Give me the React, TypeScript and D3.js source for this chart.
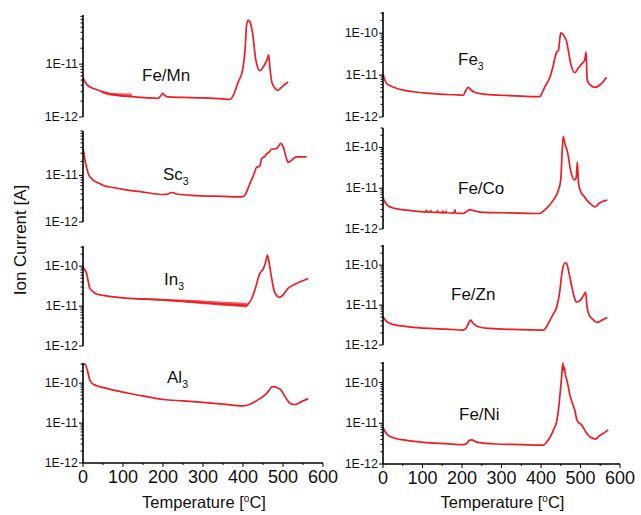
import React from "react";
import * as d3 from "d3";

// ---------- data (temperature in °C, ion current in A) ----------
const X_TICKS = [0, 100, 200, 300, 400, 500, 600];
const X_MINOR = [50, 150, 250, 350, 450, 550];

const FEMN_T = [0, 4, 10, 20, 34, 50, 70, 90, 113, 130, 160, 188, 194, 199, 204, 212, 250, 300, 350, 367, 376, 388, 399, 405, 409, 413, 417, 424, 432, 442, 451, 461, 464, 467, 472, 480, 486, 494, 502, 513];
const FEMN_I = [5.5e-12, 4.8e-12, 4.1e-12, 3.6e-12, 3.3e-12, 3.0e-12, 2.7e-12, 2.55e-12, 2.45e-12, 2.4e-12, 2.3e-12, 2.25e-12, 2.5e-12, 2.8e-12, 2.6e-12, 2.4e-12, 2.35e-12, 2.3e-12, 2.2e-12, 2.15e-12, 2.6e-12, 4.6e-12, 7.7e-12, 1.8e-11, 5.5e-11, 6.7e-11, 6.4e-11, 3.8e-11, 1.2e-11, 7.5e-12, 8.9e-12, 1.27e-11, 1.5e-11, 9e-12, 4.6e-12, 3.5e-12, 3.2e-12, 3.5e-12, 4.0e-12, 4.6e-12];
const FEMN_NOISE_T = [45, 60, 80, 100, 122];
const FEMN_NOISE_LO = [2.85e-12, 2.62e-12, 2.5e-12, 2.4e-12, 2.38e-12];
const FEMN_NOISE_HI = [3.15e-12, 2.95e-12, 2.85e-12, 2.8e-12, 2.75e-12];

const SC3_T = [0, 3, 5, 9, 13, 20, 26, 40, 51, 75, 101, 150, 201, 212, 222, 235, 284, 350, 397, 405, 417, 428, 434, 441, 447, 453, 459, 466, 472, 478, 484, 490, 494, 501, 507, 513, 519, 526, 534, 559];
const SC3_I = [3.7e-11, 2.8e-11, 2.1e-11, 1.5e-11, 1.1e-11, 8.8e-12, 7.8e-12, 6.8e-12, 6.1e-12, 5.5e-12, 5.0e-12, 4.4e-12, 3.9e-12, 4.0e-12, 4.3e-12, 4.0e-12, 3.7e-12, 3.55e-12, 3.45e-12, 3.8e-12, 6.6e-12, 1.1e-11, 1.5e-11, 1.55e-11, 2.3e-11, 2.5e-11, 2.9e-11, 3.2e-11, 3.7e-11, 3.7e-11, 3.8e-11, 4.4e-11, 4.9e-11, 4.0e-11, 2.6e-11, 1.9e-11, 2.05e-11, 2.3e-11, 2.5e-11, 2.5e-11];

const IN3_T = [0, 5, 9, 13, 17, 23, 30, 50, 76, 100, 150, 201, 250, 300, 350, 400, 409, 415, 422, 430, 442, 451, 457, 461, 466, 471, 480, 491, 500, 513, 534, 563];
const IN3_I = [9.6e-11, 8.0e-11, 6.6e-11, 4.2e-11, 2.8e-11, 2.4e-11, 2.1e-11, 1.85e-11, 1.7e-11, 1.6e-11, 1.5e-11, 1.42e-11, 1.32e-11, 1.22e-11, 1.12e-11, 1.05e-11, 1.03e-11, 1.2e-11, 1.55e-11, 2.6e-11, 6.6e-11, 8.7e-11, 1.3e-10, 1.9e-10, 1.1e-10, 5.4e-11, 2.1e-11, 1.65e-11, 1.9e-11, 2.8e-11, 3.7e-11, 4.9e-11];
const IN3_NOISE_T = [130, 200, 260, 320, 380, 410];
const IN3_NOISE_LO = [1.48e-11, 1.34e-11, 1.22e-11, 1.08e-11, 0.97e-11, 0.92e-11];
const IN3_NOISE_HI = [1.6e-11, 1.53e-11, 1.45e-11, 1.35e-11, 1.25e-11, 1.2e-11];

const AL3_T = [0, 5, 11, 17, 26, 40, 59, 85, 117, 160, 201, 250, 284, 350, 401, 422, 442, 459, 466, 472, 478, 484, 490, 494, 505, 512, 518, 530, 545, 563];
const AL3_I = [3.0e-10, 3.0e-10, 2.1e-10, 1.2e-10, 9.4e-11, 8.3e-11, 7.4e-11, 6.4e-11, 5.5e-11, 4.6e-11, 3.9e-11, 3.6e-11, 3.4e-11, 3.0e-11, 2.7e-11, 3.1e-11, 4.1e-11, 5.5e-11, 6.8e-11, 8.1e-11, 8.2e-11, 7.8e-11, 7.3e-11, 6.9e-11, 4.6e-11, 3.6e-11, 3.1e-11, 2.9e-11, 3.4e-11, 4.1e-11];

const FE3_T = [0, 4, 9, 20, 35, 55, 77, 110, 144, 180, 203, 208, 216, 222, 229, 254, 300, 350, 397, 403, 410, 423, 431, 437, 440, 444, 447, 450, 457, 465, 470, 475, 486, 494, 503, 511, 514, 517, 522, 528, 537, 549, 566];
const FE3_I = [1.05e-11, 8.0e-12, 6.3e-12, 5.5e-12, 4.8e-12, 4.3e-12, 4.0e-12, 3.7e-12, 3.5e-12, 3.4e-12, 3.3e-12, 4.0e-12, 5.1e-12, 4.5e-12, 4.0e-12, 3.5e-12, 3.3e-12, 3.15e-12, 3.05e-12, 3.8e-12, 5.3e-12, 9.1e-12, 1.7e-11, 3.0e-11, 3.6e-11, 3.8e-11, 6.5e-11, 1.02e-10, 9.0e-11, 6.2e-11, 3.5e-11, 1.9e-11, 1.15e-11, 1.45e-11, 1.85e-11, 2.3e-11, 3.6e-11, 7.6e-12, 6.2e-12, 5.5e-12, 5.1e-12, 5.8e-12, 8.9e-12];

const FECO_T = [0, 5, 14, 30, 60, 90, 108, 110, 112, 119, 121, 123, 136, 138, 140, 149, 151, 153, 157, 159, 161, 180, 182, 184, 203, 212, 220, 230, 246, 300, 350, 397, 405, 414, 431, 444, 450, 453, 456, 461, 467, 475, 484, 489, 492, 495, 501, 508, 516, 527, 537, 549, 568];
const FECO_I = [5.8e-12, 4.6e-12, 3.6e-12, 3.2e-12, 2.9e-12, 2.7e-12, 2.6e-12, 2.85e-12, 2.6e-12, 2.6e-12, 2.8e-12, 2.6e-12, 2.55e-12, 2.8e-12, 2.55e-12, 2.5e-12, 2.75e-12, 2.5e-12, 2.5e-12, 2.7e-12, 2.5e-12, 2.45e-12, 2.95e-12, 2.45e-12, 2.4e-12, 2.7e-12, 3.0e-12, 2.8e-12, 2.6e-12, 2.5e-12, 2.45e-12, 2.4e-12, 2.7e-12, 3.2e-12, 5.1e-12, 8.9e-12, 1.6e-11, 6e-11, 1.85e-10, 1.2e-10, 7.8e-11, 2.7e-11, 1.6e-11, 1.8e-11, 4.4e-11, 1.3e-11, 8.1e-12, 6.5e-12, 5.1e-12, 4.0e-12, 3.5e-12, 4.4e-12, 5.1e-12];

const FEZN_T = [0, 5, 14, 30, 60, 119, 160, 203, 208, 212, 217, 222, 228, 237, 250, 271, 330, 406, 415, 423, 432, 440, 448, 452, 456, 461, 465, 470, 478, 484, 489, 499, 507, 513, 516, 520, 527, 533, 541, 555, 568];
const FEZN_I = [5.1e-12, 4.3e-12, 3.6e-12, 3.2e-12, 2.9e-12, 2.6e-12, 2.5e-12, 2.37e-12, 2.5e-12, 2.8e-12, 3.6e-12, 4.2e-12, 3.5e-12, 3.0e-12, 2.75e-12, 2.6e-12, 2.45e-12, 2.37e-12, 3.0e-12, 4.2e-12, 6.2e-12, 9.1e-12, 2.4e-11, 5.5e-11, 9.1e-11, 1.15e-10, 1.1e-10, 7e-11, 2.9e-11, 1.6e-11, 1.2e-11, 1.3e-11, 1.7e-11, 2.1e-11, 1.0e-11, 6.2e-12, 4.8e-12, 4.2e-12, 3.7e-12, 4.2e-12, 4.9e-12];

const FENI_T = [0, 5, 14, 30, 60, 119, 160, 203, 212, 218, 225, 233, 241, 284, 350, 406, 415, 423, 432, 440, 445, 448, 452, 455, 457, 459, 462, 465, 469, 473, 480, 486, 490, 495, 501, 507, 514, 520, 528, 537, 549, 560, 570];
const FENI_I = [7.9e-12, 6.3e-12, 5.0e-12, 4.3e-12, 3.8e-12, 3.3e-12, 3.15e-12, 3.0e-12, 3.2e-12, 3.8e-12, 3.9e-12, 3.6e-12, 3.4e-12, 3.1e-12, 3.0e-12, 2.9e-12, 3.5e-12, 4.6e-12, 7e-12, 1.15e-11, 2.5e-11, 5e-11, 1.3e-10, 3.0e-10, 2.0e-10, 2.4e-10, 1.5e-10, 1.2e-10, 8e-11, 5e-11, 3e-11, 2e-11, 1.3e-11, 1.05e-11, 9.5e-12, 7.9e-12, 6.0e-12, 5.0e-12, 4.4e-12, 4.1e-12, 5.0e-12, 5.8e-12, 6.9e-12];

// ---------- layout ----------
const COLOR = "#ee1c24";
const FONT = "Arial, 'Liberation Sans', Helvetica, sans-serif";
const COLS = [
  [83, 323],
  [383, 620],
];

type Panel = {
  name: string;
  sub?: string;
  col: number;
  top: number;
  bottom: number;
  max: number;
  T: number[];
  I: number[];
  noise?: { T: number[]; lo: number[]; hi: number[] };
  lx: number;
  ly: number;
  bottomAxis?: boolean;
};

const PANELS: Panel[] = [
  { name: "Fe/Mn", col: 0, top: 15, bottom: 117, max: 8.5e-11, T: FEMN_T, I: FEMN_I, noise: { T: FEMN_NOISE_T, lo: FEMN_NOISE_LO, hi: FEMN_NOISE_HI }, lx: 142, ly: 81 },
  { name: "Sc", sub: "3", col: 0, top: 131, bottom: 222, max: 9e-11, T: SC3_T, I: SC3_I, lx: 163, ly: 180 },
  { name: "In", sub: "3", col: 0, top: 246, bottom: 346, max: 3.2e-10, T: IN3_T, I: IN3_I, noise: { T: IN3_NOISE_T, lo: IN3_NOISE_LO, hi: IN3_NOISE_HI }, lx: 164, ly: 285 },
  { name: "Al", sub: "3", col: 0, top: 363, bottom: 463, max: 3.2e-10, T: AL3_T, I: AL3_I, lx: 167, ly: 383, bottomAxis: true },
  { name: "Fe", sub: "3", col: 1, top: 12, bottom: 117, max: 3.2e-10, T: FE3_T, I: FE3_I, lx: 458, ly: 65 },
  { name: "Fe/Co", col: 1, top: 128, bottom: 229, max: 3e-10, T: FECO_T, I: FECO_I, lx: 458, ly: 194 },
  { name: "Fe/Zn", col: 1, top: 245, bottom: 345, max: 3.2e-10, T: FEZN_T, I: FEZN_I, lx: 451, ly: 300 },
  { name: "Fe/Ni", col: 1, top: 362, bottom: 464, max: 3.2e-10, T: FENI_T, I: FENI_I, lx: 459, ly: 420, bottomAxis: true },
];

function PanelView({ p }: { p: Panel }) {
  const [x0, x1] = COLS[p.col];
  const x = d3.scaleLinear().domain([0, 600]).range([x0, x1]);
  const y = d3.scaleLog().domain([1e-12, p.max]).range([p.bottom, p.top]);
  const pts: [number, number][] = p.T.map((t, i) => [t, p.I[i]]);
  const line = d3
    .line<[number, number]>()
    .x((d) => x(d[0]))
    .y((d) => y(d[1]))
    .curve(d3.curveMonotoneX);

  let noisePath: string | null = null;
  if (p.noise) {
    const nz = p.noise.T.map((t, i) => ({ t, lo: p.noise!.lo[i], hi: p.noise!.hi[i] }));
    noisePath = d3
      .area<{ t: number; lo: number; hi: number }>()
      .x((d) => x(d.t))
      .y0((d) => y(d.lo))
      .y1((d) => y(d.hi))
      .curve(d3.curveMonotoneX)(nz);
  }

  const ticks: { v: number; major: boolean; e: number }[] = [];
  for (let e = -12; e <= -9; e++) {
    for (let m = 1; m <= 9; m++) {
      const v = +(m + "e" + e);
      if (v <= p.max * 1.0001) ticks.push({ v, major: m === 1, e });
    }
  }

  return (
    <g>
      {noisePath && <path d={noisePath} fill={COLOR} opacity={0.75} />}
      <path d={line(pts) || ""} fill="none" stroke={COLOR} strokeWidth={1.7} strokeLinejoin="round" />
      <line x1={x0} x2={x0} y1={p.top} y2={p.bottom} stroke="#000" strokeWidth={1.6} />
      {ticks.map((t, i) => (
        <line key={i} x1={x0 - (t.major ? 4 : 2.5)} x2={x0} y1={y(t.v)} y2={y(t.v)} stroke="#000" strokeWidth={1} />
      ))}
      {ticks
        .filter((t) => t.major)
        .map((t, i) => (
          <text key={"l" + i} x={x0 - 5} y={y(t.v) + 4} textAnchor="end" fontSize={12.5} fontFamily={FONT} fill="#111">
            {"1E" + t.e}
          </text>
        ))}
      <text x={p.lx} y={p.ly} fontSize={17} fontFamily={FONT} fill="#111">
        {p.name}
        {p.sub && (
          <tspan fontSize={10.5} dy={5}>
            {p.sub}
          </tspan>
        )}
      </text>
      {p.bottomAxis && (
        <g>
          <line x1={x0} x2={x1} y1={p.bottom} y2={p.bottom} stroke="#000" strokeWidth={1.6} />
          {X_TICKS.map((t) => (
            <line key={t} x1={x(t)} x2={x(t)} y1={p.bottom} y2={p.bottom + 4} stroke="#000" strokeWidth={1} />
          ))}
          {X_MINOR.map((t) => (
            <line key={t} x1={x(t)} x2={x(t)} y1={p.bottom} y2={p.bottom + 2} stroke="#000" strokeWidth={1} />
          ))}
          {X_TICKS.map((t) => (
            <text key={"x" + t} x={x(t)} y={p.bottom + 20} textAnchor="middle" fontSize={18} fontFamily={FONT} fill="#111">
              {t}
            </text>
          ))}
          <text x={(x0 + x1) / 2 + 1} y={508} textAnchor="middle" fontSize={16.5} fontFamily={FONT} fill="#111">
            Temperature [
            <tspan fontSize={10} dy={-6}>o</tspan>
            <tspan dy={6}>C]</tspan>
          </text>
        </g>
      )}
    </g>
  );
}

export default function App() {
  return (
    <svg width={641} height={515} style={{ position: "absolute", left: 0, top: 0, background: "#fff" }}>
      <rect width={641} height={515} fill="#fff" />
      {PANELS.map((p, i) => (
        <PanelView key={i} p={p} />
      ))}
      <text transform="translate(26,240) rotate(-90)" textAnchor="middle" fontSize={17} fontFamily={FONT} fill="#111">
        Ion Current [A]
      </text>
    </svg>
  );
}
